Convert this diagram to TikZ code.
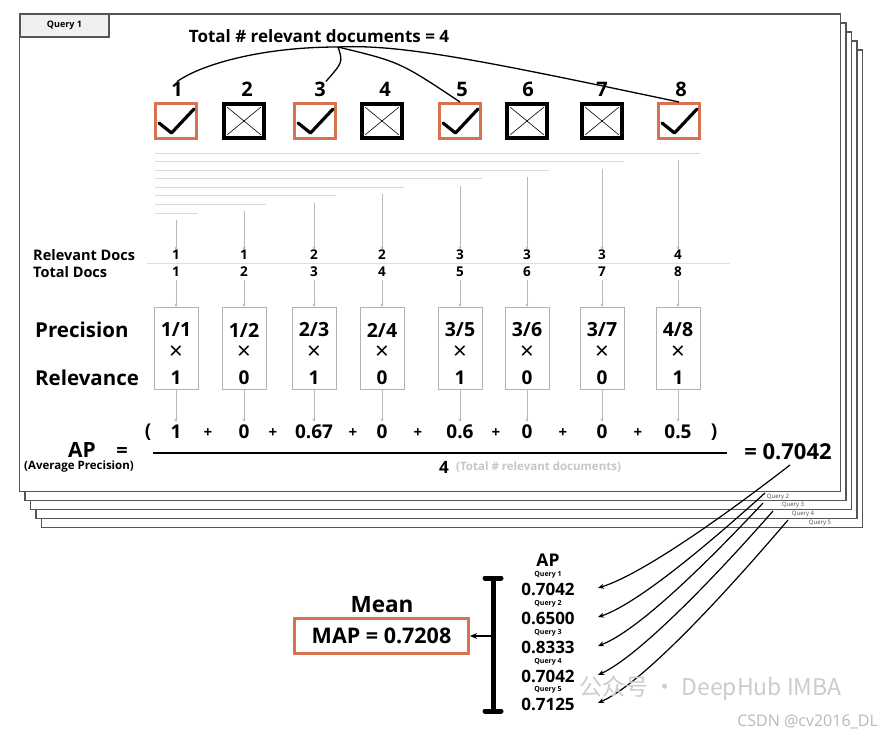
\documentclass[tikz,border=0pt]{standalone}
\usepackage{fontspec}
\setmainfont{Open Sans}
\newfontfamily\cjkfont{Noto Sans CJK SC}
\usetikzlibrary{arrows.meta,calc}
\definecolor{orng}{RGB}{216,112,82}
\definecolor{pageline}{RGB}{85,85,85}
\tikzset{
  fsb/.style={font=\bfseries\fontsize{#1}{#1}\selectfont, inner sep=0pt},
  fsr/.style={font=\fontsize{#1}{#1}\selectfont, inner sep=0pt},
  pg/.style={draw=pageline, line width=1.2pt, fill=white},
  relbox/.style={draw=orng, line width=3pt, minimum width=41pt, minimum height=35pt, inner sep=0pt},
  nrbox/.style={draw=black, line width=3.5pt, minimum width=40pt, minimum height=34pt, inner sep=0pt},
  tick/.style={line width=3.2pt, line cap=round, line join=round},
  thinx/.style={line width=0.6pt},
  cascade/.style={draw=gray!30, line width=0.9pt},
  garrow/.style={draw=gray!55, line width=0.7pt, -{Stealth[length=3.5pt,width=3pt]}},
  pbox/.style={draw=gray!60, line width=0.9pt, minimum width=44pt, minimum height=82pt, inner sep=0pt},
  qarrow/.style={line width=1.2pt, -{Stealth[length=6pt,width=5pt]}},
  hubline/.style={line width=1.3pt},
  qtiny/.style={font=\fontsize{6}{6}\selectfont, text=gray!60!black, inner sep=0pt},
  wmark/.style={text=gray!40, font=\cjkfont\fontsize{23}{23}\selectfont, inner sep=0pt},
}
\begin{document}
\begin{tikzpicture}[x=1pt,y=-1pt]
\useasboundingbox (0,0) rectangle (883,738);
\fill[white] (0,0) rectangle (883,738);

% stacked pages
\foreach \k in {4,3,2,1} {
  \draw[pg] ({19.5+5.5*\k},{14+9*\k}) rectangle ({840.5+5.5*\k},{491.5+9*\k});
}
\draw[pg] (19.5,14) rectangle (840.5,491.5);
\node[qtiny] (q2lab) at (778,497) {Query 2};
\node[qtiny] (q3lab) at (793,505.5) {Query 3};
\node[qtiny] (q4lab) at (803,514) {Query 4};
\node[qtiny] (q5lab) at (820,523) {Query 5};

% tab
\node[draw=pageline, fill=gray!12, line width=1.2pt, minimum width=89pt, minimum height=23pt,
      font=\bfseries\fontsize{9}{9}\selectfont, inner sep=0pt] (tab) at (64.5,25.5) {Query 1};

% title
\node[fsb=17] (title) at (319,36) {Total \# relevant documents = 4};
\coordinate (hub) at (338,47);

% top numbers and boxes
\foreach \x/\nx/\i in {176/177/1,244/247/2,315/320/3,382/385/4,460/462/5,527/528/6,602/602/7,679/681/8} {
  \node[fsb=20] (n\i) at (\nx,89) {\i};
}
\foreach \x/\i in {176/1,315/3,460/5,679/8} {
  \node[relbox] (b\i) at (\x,121) {};
  \draw[tick] ($(b\i.center)+(-17,2)$) -- ($(b\i.center)+(-4.5,12)$) -- ($(b\i.center)+(18,-12)$);
}
\foreach \x/\i in {244/2,382/4,527/6,602/7} {
  \node[nrbox] (b\i) at (\x,121) {};
  \draw[thinx] ($(b\i.north west)+(5,5)$) -- ($(b\i.south east)+(-5,-5)$);
  \draw[thinx] ($(b\i.north east)+(-5,5)$) -- ($(b\i.south west)+(5,-5)$);
}

% curves from title
\draw[hubline] (hub) .. controls (260,47) and (200,65) .. (n1.north);
\draw[hubline] (hub) .. controls (343,62) .. (n3.north east);
\draw[hubline] (hub) .. controls (400,62) .. (b5.north);
\draw[hubline] (hub) .. controls (400,44) and (480,60) .. (b8.north);

% row labels
\node[fsb=14.5, anchor=west] (rdl) at (33,255) {Relevant Docs};
\node[fsb=14.5, anchor=west] (tdl) at (33,272) {Total Docs};
\draw[draw=gray!25, line width=0.8pt] (147,263.5) -- (730,263.5);

% columns
\foreach \x/\i/\r/\fr/\rel/\s in {176/1/1/1\slash 1/1/1, 244/2/1/1\slash 2/0/0, 314/3/2/2\slash 3/1/0.67, 382/4/2/2\slash 4/0/0,
                               460/5/3/3\slash 5/1/0.6, 527/6/3/3\slash 6/0/0, 602/7/3/3\slash 7/0/0, 678/8/4/4\slash 8/1/0.5} {
  \pgfmathsetmacro\yy{213-(\i-1)*8.57}
  \node[fsb=13.5] (rd\i) at (\x,255) {\r};
  \node[fsb=13.5] (td\i) at (\x,272) {\i};
  \draw[cascade] (155,\yy) -- (\x+22,\yy);
  \draw[garrow] (\x,\yy+7) -- (rd\i.north);
  \node[pbox] (pb\i) at (\x,348.5) {};
  \node[fsb=19.5] (pf\i) at (\x,330) {\fr};
  \node[fsr=24] (px\i) at (\x,353) {×};
  \node[fsb=19] (pv\i) at (\x,378) {\rel};
  \node[fsb=19] (s\i) at (\x,432) {\s};
  \draw[garrow] ([yshift=-3pt]td\i.south) -- (pb\i.north);
  \draw[garrow] (pb\i.south) -- ([yshift=3pt]s\i.north);
}

\node[fsb=20.5, anchor=west] (prec) at (35,330) {Precision};
\node[fsb=20.5, anchor=west] (relv) at (35,378) {Relevance};

% sum row
\node[fsb=19] (lp) at (148,432) {(};
\node[fsb=19] (rp) at (714,432) {)};
\foreach \x/\j in {208/1,273/2,353/3,418/4,496/5,563/6,638/7} {
  \node[fsb=15] (plus\j) at (\x,433) {+};
}
\draw[line width=2.5pt] (153,453) -- (727,453);

\node[fsb=21] (ap) at (82,450) {AP};
\node[fsb=20] (apeq) at (122,452) {=};
\node[fsb=11.5] (avg) at (79,467) {(Average Precision)};
\node[fsb=17] (four) at (444,467) {4};
\node[fsb=11.5, anchor=west, text=gray!45] (totrel) at (456,467) {(Total \# relevant documents)};
\node[fsb=22] (res) at (788,452) {= 0.7042};

% bottom AP list
\node[fsb=17.5] (apb) at (548,560) {AP};
\foreach \i/\v/\y in {1/0.7042/589, 2/0.6500/618, 3/0.8333/647, 4/0.7042/676, 5/0.7125/704} {
  \node[fsb=7] (ql\i) at (548,\y-14) {Query \i};
  \node[fsb=17] (v\i) at (548,\y) {\v};
  \coordinate (a\i) at (598,\y-1);
}

% curves from pages to AP list
\coordinate (s1) at (790,465);
\coordinate (s2) at (765,493);
\coordinate (s3) at (763,503);
\coordinate (s4) at (773,511);
\coordinate (s5) at (788,520);
\draw[qarrow] (s1) .. controls (719,520) and (640,575) .. (a1);
\draw[qarrow] (s2) .. controls (703,549) and (635,605) .. (a2);
\draw[qarrow] (s3) .. controls (703,567) and (637,631) .. (a3);
\draw[qarrow] (s4) .. controls (709,584) and (637,657) .. (a4);
\draw[qarrow] (s5) .. controls (718,602) and (641,684) .. (a5);

% bracket
\draw[line width=5pt] (493,578) -- (493,711);
\draw[line width=5pt, line cap=round] (485,578) -- (501,578);
\draw[line width=5pt, line cap=round] (485,711) -- (501,711);
\coordinate (brk) at (491,636);

% MAP
\node[fsb=22.5] (mean) at (382,605) {Mean};
\node[draw=orng, line width=3pt, minimum width=174pt, minimum height=35pt, inner sep=0pt,
      font=\bfseries\fontsize{21.5}{21.5}\selectfont] (map) at (381.5,636) {MAP = 0.7208};
\draw[line width=1.3pt, -{Stealth[length=7pt,width=6pt]}] (brk) -- (map.east);

% watermarks
\node[wmark, anchor=west] (wm) at (579,688) {公众号 · DeepHub IMBA};
\node[anchor=east, text=gray!55, fsr=16] (csdn) at (878,722) {CSDN @cv2016\_DL};
\end{tikzpicture}
\end{document}
